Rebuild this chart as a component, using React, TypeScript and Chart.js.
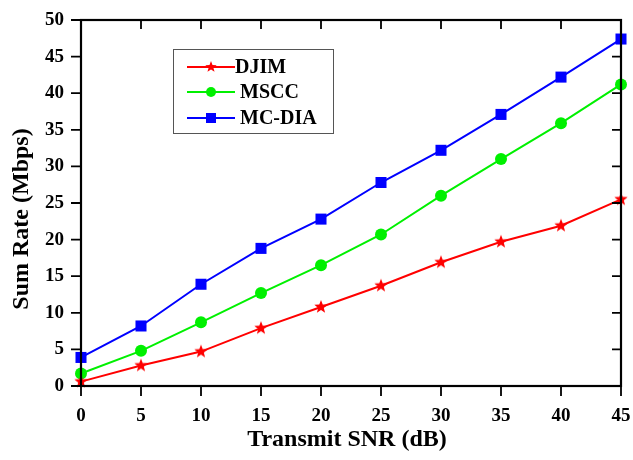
import React, { useEffect, useRef } from "react";
import { Chart, registerables } from "chart.js";

Chart.register(...registerables);

const snr = [0, 5, 10, 15, 20, 25, 30, 35, 40, 45];
const djim = [0.6, 2.8, 4.7, 7.9, 10.8, 13.7, 16.9, 19.7, 21.9, 25.5];
const mscc = [1.7, 4.8, 8.7, 12.7, 16.5, 20.7, 26.0, 31.0, 35.9, 41.2];
const mcdia = [3.9, 8.2, 13.9, 18.8, 22.8, 27.8, 32.2, 37.1, 42.2, 47.4];
const seriesNames = ["DJIM", "MSCC", "MC-DIA"];
const seriesColors = ["#ff0000", "#00f000", "#0000ff"];
const seriesMarkers = ["star", "circle", "rect"];
const markerSizes = [7, 6, 7.8];
const legendMarkerSizes = [6, 5, 5];
const xTitle = "Transmit SNR (dB)";
const yTitle = "Sum Rate (Mbps)";

const FONT = "'Liberation Serif', 'Times New Roman', serif";

function drawMarker(ctx: any, style: string, x: number, y: number, r: number, color: string) {
  ctx.save();
  ctx.fillStyle = color;
  ctx.beginPath();
  if (style === "circle") {
    ctx.arc(x, y, r, 0, Math.PI * 2);
    ctx.fill();
  } else if (style === "rect") {
    ctx.fillRect(x - r, y - r, 2 * r, 2 * r);
  } else {
    const outer = r, inner = r * 0.42;
    for (let k = 0; k < 10; k++) {
      const ang = -Math.PI / 2 + (k * Math.PI) / 5;
      const rr = k % 2 === 0 ? outer : inner;
      const px = x + rr * Math.cos(ang);
      const py = y + rr * Math.sin(ang);
      if (k === 0) ctx.moveTo(px, py);
      else ctx.lineTo(px, py);
    }
    ctx.closePath();
    ctx.fill();
  }
  ctx.restore();
}

const framePlugin = {
  id: "frame",
  afterDatasetsDraw(chart: any) {
    const { ctx, chartArea: a, scales } = chart;
    const xs = scales.x;
    const ys = scales.y;
    ctx.save();
    ctx.strokeStyle = "#000";
    ctx.lineWidth = 2.2;
    ctx.strokeRect(a.left, a.top, a.right - a.left, a.bottom - a.top);
    ctx.lineWidth = 1.8;
    ctx.beginPath();
    for (const v of snr) {
      const px = xs.getPixelForValue(v);
      ctx.moveTo(px, a.top);
      ctx.lineTo(px, a.top + 9);
      ctx.moveTo(px, a.bottom);
      ctx.lineTo(px, a.bottom + 10);
    }
    for (let v = 0; v <= 50; v += 5) {
      const py = ys.getPixelForValue(v);
      ctx.moveTo(a.right, py);
      ctx.lineTo(a.right - 9, py);
      ctx.moveTo(a.left, py);
      ctx.lineTo(a.left - 10, py);
    }
    ctx.stroke();

    // axis titles
    ctx.fillStyle = "#000";
    ctx.font = `bold 24px ${FONT}`;
    ctx.textAlign = "center";
    ctx.textBaseline = "alphabetic";
    ctx.fillText(xTitle, 347, 446);
    ctx.save();
    ctx.translate(28, 219);
    ctx.rotate(-Math.PI / 2);
    ctx.fillText(yTitle, 0, 0);
    ctx.restore();

    // legend
    const bx = 173, by = 49, bw = 160, bh = 84;
    ctx.lineWidth = 1;
    ctx.strokeStyle = "#555";
    ctx.strokeRect(bx + 0.5, by + 0.5, bw, bh);
    const rows = [67, 92, 118];
    const textX = [235, 240, 240];
    chart.data.datasets.forEach((ds: any, i: number) => {
      const y = rows[i];
      ctx.strokeStyle = ds.borderColor;
      ctx.lineWidth = 2;
      ctx.beginPath();
      ctx.moveTo(187, y);
      ctx.lineTo(235, y);
      ctx.stroke();
      drawMarker(ctx, seriesMarkers[i], 211, y, legendMarkerSizes[i], ds.borderColor);
      ctx.fillStyle = "#000";
      ctx.font = `bold 20px ${FONT}`;
      ctx.textBaseline = "middle";
      ctx.textAlign = "left";
      ctx.fillText(ds.label, textX[i], y + 1);
    });
    ctx.restore();
  },
};

const starStyle = (() => {
  if (typeof document === "undefined") return "star";
  const c = document.createElement("canvas");
  const r = 7;
  c.width = 2 * r + 2;
  c.height = 2 * r + 2;
  const cx = c.getContext("2d");
  if (cx) drawMarker(cx, "star", r + 1, r + 1, r, "#ff0000");
  return c;
})();

export default function App() {
  const ref = useRef<HTMLCanvasElement>(null);
  useEffect(() => {
    document.body.style.margin = "0";
    const values = [djim, mscc, mcdia];
    const chart = new Chart(ref.current as HTMLCanvasElement, {
      type: "line",
      data: {
        datasets: seriesNames.map((name, i) => ({
          label: name,
          data: snr.map((x, j) => ({ x, y: values[i][j] })),
          borderColor: seriesColors[i],
          backgroundColor: seriesColors[i],
          borderWidth: 2,
          pointStyle: seriesMarkers[i] === "star" ? (starStyle as any) : seriesMarkers[i],
          pointRadius: markerSizes[i],
          pointBorderWidth: 0,
          tension: 0,
          clip: false as any,
        })),
      },
      options: {
        animation: false,
        responsive: false,
        events: [],
        layout: { padding: { left: 0, right: 12, top: 20, bottom: 0 } },
        plugins: { legend: { display: false }, tooltip: { enabled: false } },
        scales: {
          x: {
            type: "linear",
            min: 0,
            max: 45,
            afterFit: (s: any) => {
              s.height = 74;
              s.paddingLeft = 0;
              s.paddingRight = 0;
            },
            grid: { display: false, drawTicks: false },
            border: { display: false },
            ticks: {
              stepSize: 5,
              padding: 19,
              maxRotation: 0,
              color: "#000",
              font: { family: FONT, size: 19, weight: "bold" },
            },
          },
          y: {
            min: 0,
            max: 50,
            afterFit: (s: any) => {
              s.width = 81;
              s.paddingTop = 0;
              s.paddingBottom = 0;
            },
            grid: { display: false, drawTicks: false },
            border: { display: false },
            ticks: {
              stepSize: 5,
              padding: 17,
              color: "#000",
              font: { family: FONT, size: 19, weight: "bold" },
            },
          },
        },
      },
      plugins: [framePlugin],
    } as any);
    return () => chart.destroy();
  }, []);
  return <canvas ref={ref} width={633} height={460} style={{ display: "block" }} />;
}
